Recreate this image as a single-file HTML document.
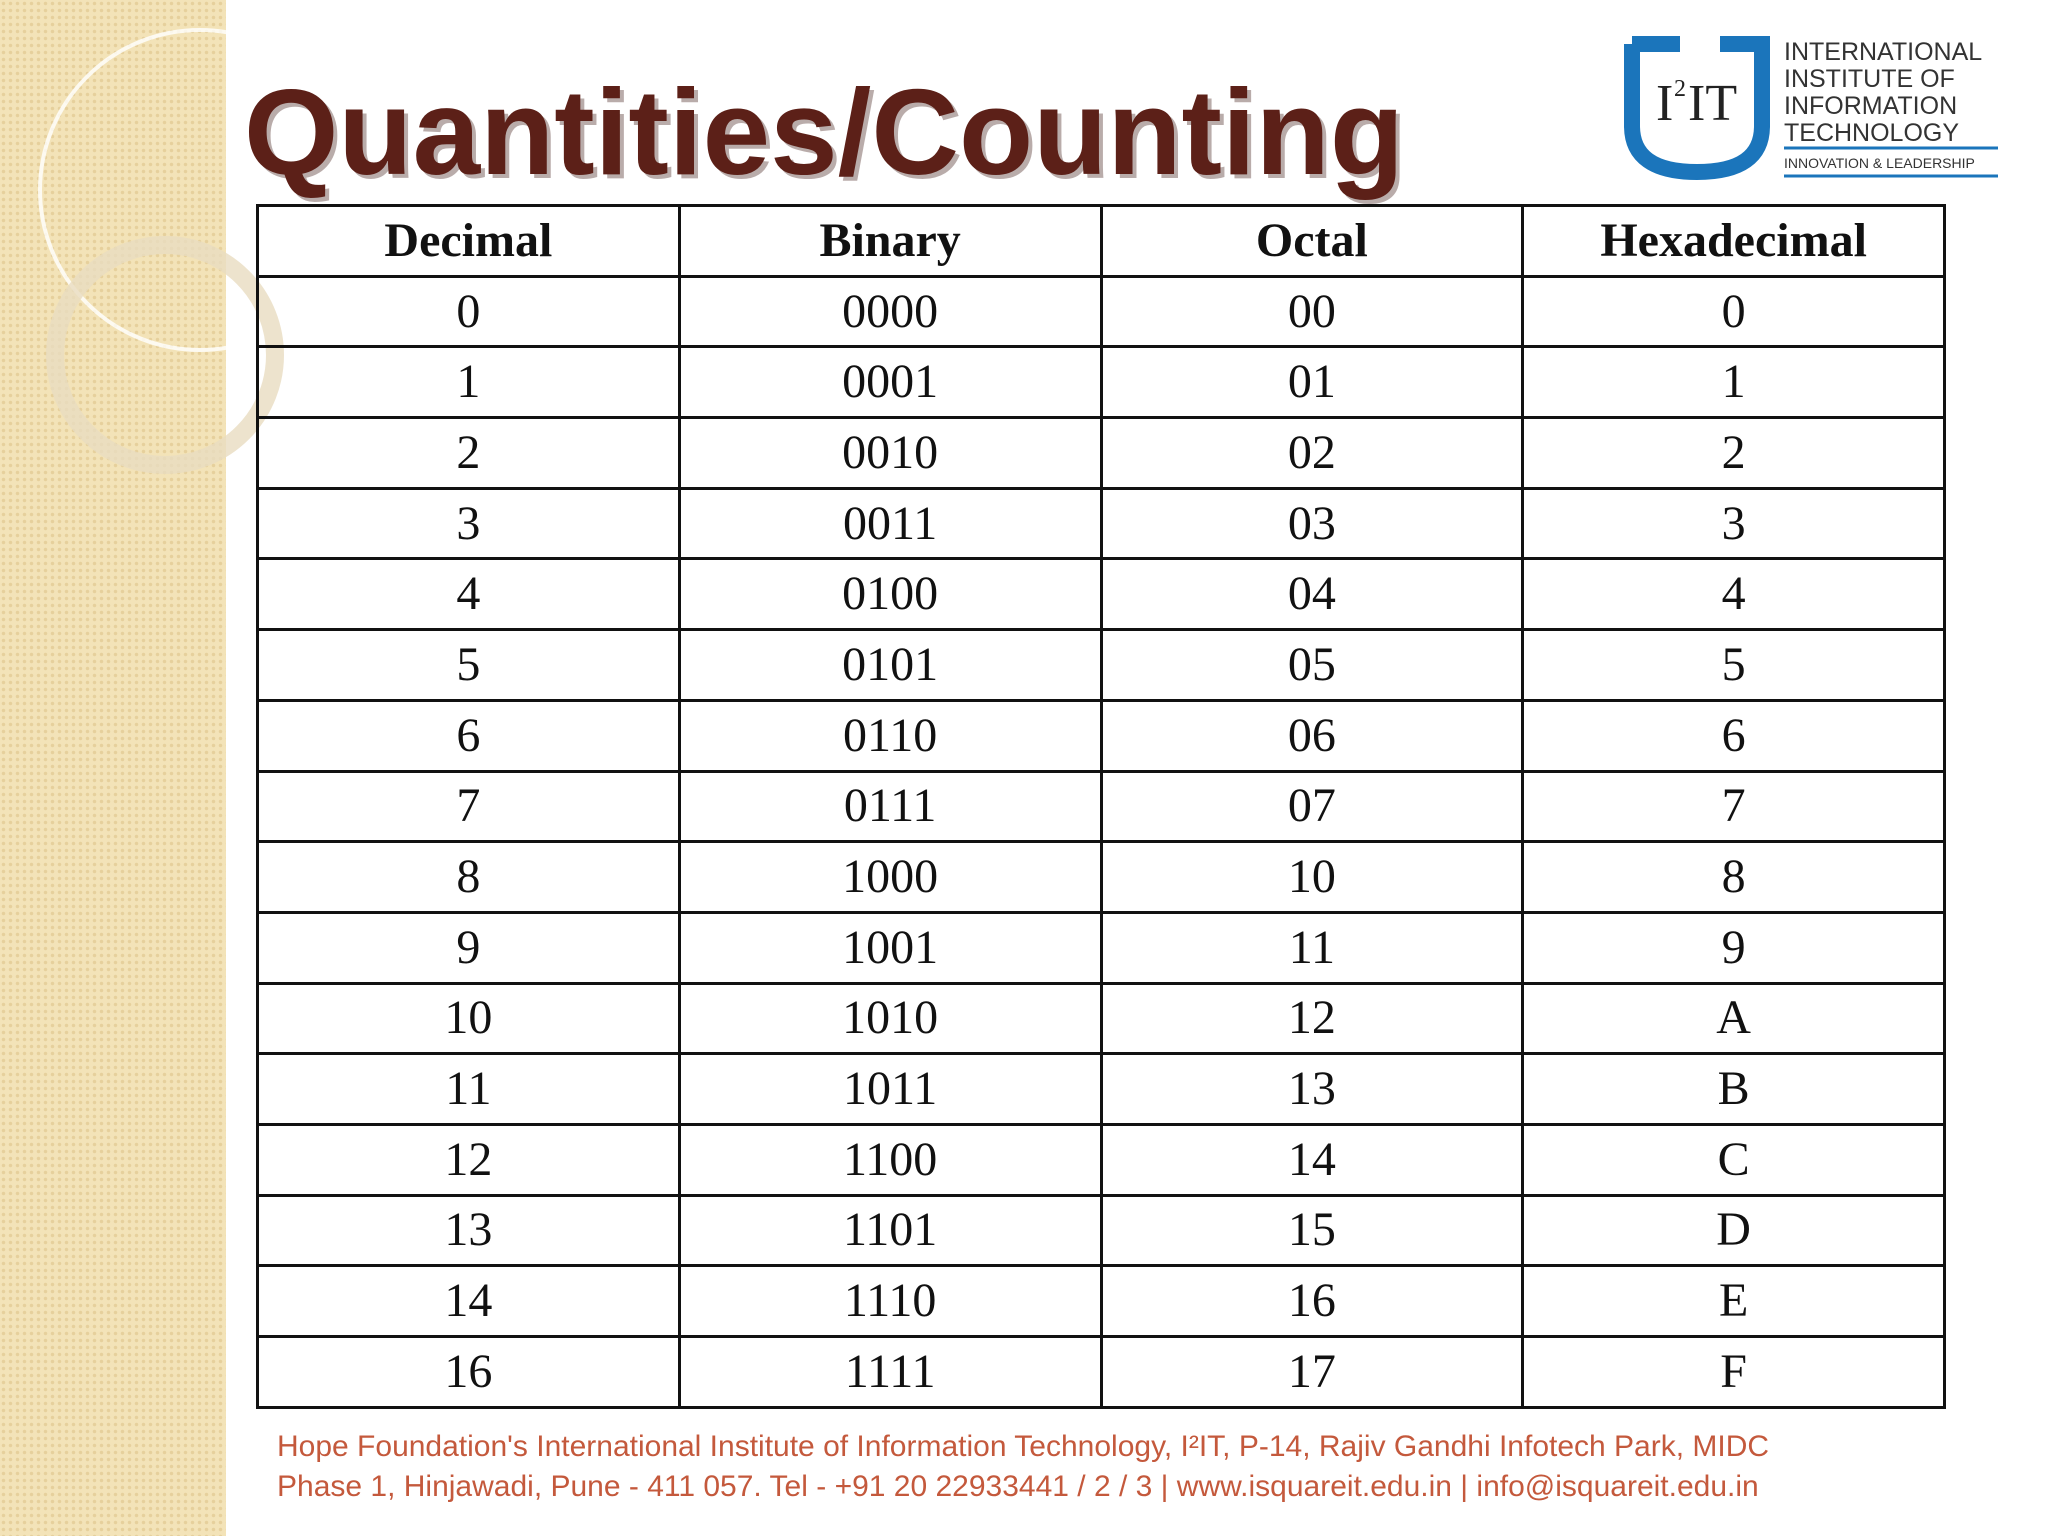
<!DOCTYPE html>
<html><head><meta charset="utf-8"><style>
html,body{margin:0;padding:0}
body{width:2048px;height:1536px;position:relative;overflow:hidden;background:#fff;font-family:"Liberation Sans",sans-serif}
#strip{position:absolute;left:0;top:0;width:226px;height:1536px;background-color:#f3e3b8;background-image:radial-gradient(circle,#e6d09c 1.5px,transparent 2px);background-size:7px 7px}
table{position:absolute;left:256px;top:204px;width:1690px;border-collapse:collapse;font-family:"Liberation Serif",serif}
td,th{border:3px solid #111;height:67.7px;padding:0;text-align:center;font-size:48px;color:#111;width:25%;line-height:1}
th{font-weight:bold;font-size:48px}
.foot{position:absolute;left:277px;color:#c4593c;font-size:30px;white-space:nowrap}
</style></head><body>
<div id="strip"></div>
<svg style="position:absolute;left:0;top:0" width="300" height="520">
<circle cx="200" cy="190" r="160" fill="none" stroke="#fff" stroke-width="4" opacity="0.8"/>
<circle cx="165" cy="355" r="110" fill="none" stroke="#e8dcc0" stroke-width="18" opacity="0.8"/>
</svg>
<svg style="position:absolute;left:240px;top:60px" width="1200" height="150">
<text x="8" y="118" font-family="Liberation Sans,sans-serif" font-weight="bold" font-size="122" fill="#3a1410" opacity="0.35" textLength="1160" lengthAdjust="spacingAndGlyphs">Quantities/Counting</text>
<text x="4" y="114" font-family="Liberation Sans,sans-serif" font-weight="bold" font-size="122" fill="#5c2018" textLength="1160" lengthAdjust="spacingAndGlyphs">Quantities/Counting</text>
</svg>
<svg style="position:absolute;left:1620px;top:36px" width="390" height="150">
<path d="M12 8 H60 M100 8 H142 V90 Q142 136 77 136 Q12 136 12 90 V8" fill="none" stroke="#1b75bb" stroke-width="16"/>
<text x="36" y="84" font-family="Liberation Serif,serif" font-size="52" fill="#222">I</text>
<text x="54" y="60" font-family="Liberation Serif,serif" font-size="24" fill="#222">2</text>
<text x="68" y="84" font-family="Liberation Serif,serif" font-size="52" fill="#222">IT</text>
<g font-family="Liberation Sans,sans-serif" font-size="25" fill="#333">
<text x="164" y="24">INTERNATIONAL</text><text x="164" y="51">INSTITUTE OF</text>
<text x="164" y="78">INFORMATION</text><text x="164" y="105">TECHNOLOGY</text>
<text x="164" y="132" font-size="14">INNOVATION &amp; LEADERSHIP</text></g>
<line x1="164" y1="112" x2="378" y2="112" stroke="#1b75bb" stroke-width="3"/>
<line x1="164" y1="140" x2="378" y2="140" stroke="#1b75bb" stroke-width="3"/>
</svg>
<table id="t"></table>
<div class="foot" style="top:1430px">Hope Foundation's International Institute of Information Technology, I²IT, P-14, Rajiv Gandhi Infotech Park, MIDC</div>
<div class="foot" style="top:1470px">Phase 1, Hinjawadi, Pune - 411 057. Tel - +91 20 22933441 / 2 / 3 | www.isquareit.edu.in | info@isquareit.edu.in</div>
<script>
const headers=["Decimal","Binary","Octal","Hexadecimal"];
const decimal=["0","1","2","3","4","5","6","7","8","9","10","11","12","13","14","16"];
const binary=["0000","0001","0010","0011","0100","0101","0110","0111","1000","1001","1010","1011","1100","1101","1110","1111"];
const octal=["00","01","02","03","04","05","06","07","10","11","12","13","14","15","16","17"];
const hex=["0","1","2","3","4","5","6","7","8","9","A","B","C","D","E","F"];
const t=document.getElementById('t');
const hr=document.createElement('tr');


headers.forEach(h=>{const th=document.createElement('th');th.textContent=h;


hr.appendChild(th);});
t.appendChild(hr);
decimal.forEach((d,i)=>{const tr=document.createElement('tr');


[d,binary[i],octal[i],hex[i]].forEach((v,j)=>{const td=document.createElement('td');td.textContent=v;


tr.appendChild(td);});
t.appendChild(tr);});
</script>
</body></html>
